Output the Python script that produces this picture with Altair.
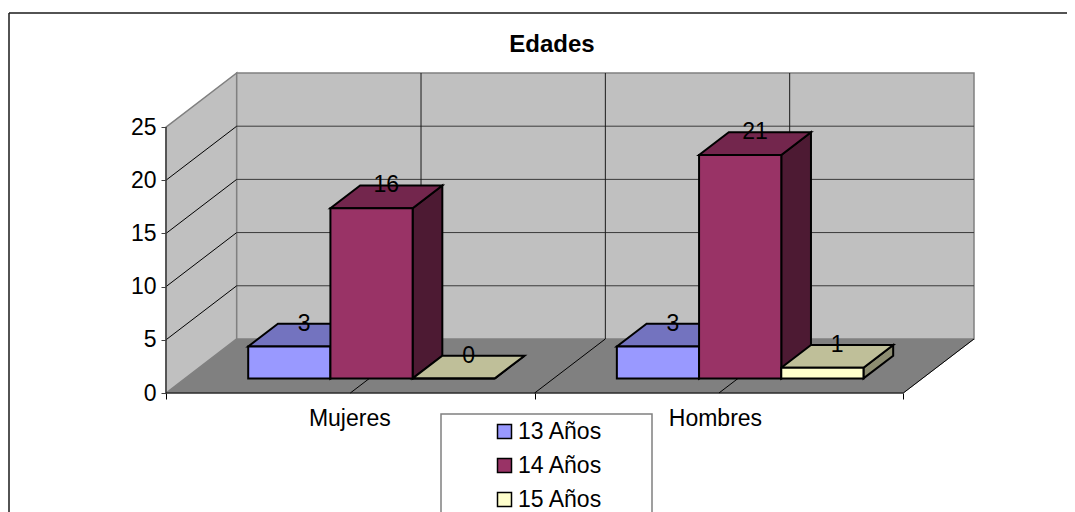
import altair as alt

# ---- chart values ----
categories = ["Mujeres", "Hombres"]
series = ["13 Años", "14 Años", "15 Años"]
values_13 = [3, 3]
values_14 = [16, 21]
values_15 = [0, 1]
y_ticks = [0, 5, 10, 15, 20, 25]

# ---- styles ----
front_colors = ["#9999FF", "#993366", "#FFFFCC"]
top_colors = ["#7373BF", "#73264D", "#BFBF99"]
side_colors = ["#4D4D80", "#4D1A33", "#8C8C70"]
FONT = "Liberation Sans"
FS = 23

# ---- oblique projection parameters (category units / value units) ----
DX = 0.1918      # full depth, in category units
DY = 5.08        # full depth, in value units
D0 = 0.27        # depth fraction in front of the bars
DB = 0.42        # depth fraction taken by a bar
GAP = 0.223
BW = 0.223
YMAX = 25 + DY
XMAX = 2 + DX

fronts, sides, tops, labels = [], [], [], []
for s, (name, vals) in enumerate(zip(series, [values_13, values_14, values_15])):
    for c, v in enumerate(vals):
        bid = f"{c}-{s}"
        xl = c + GAP + s * BW
        xr = xl + BW
        y0 = D0 * DY
        y1 = v + y0
        bx = DB * DX
        by = DB * DY
        fronts.append(dict(x=xl, x2=xr, y=y0, y2=y1, serie=name))
        sides.append(dict(x=xr, y=y0, y2=y1, fill=side_colors[s], id=bid))
        sides.append(dict(x=xr + bx, y=y0 + by, y2=y1 + by, fill=side_colors[s], id=bid))
        tops.append(dict(y=y1, x=xl, x2=xr, fill=top_colors[s], id=bid))
        tops.append(dict(y=y1 + by, x=xl + bx, x2=xr + bx, fill=top_colors[s], id=bid))
        labels.append(dict(x=(xl + xr) / 2 + bx / 2, y=y1 + by, t=str(v)))

x_axis = alt.Axis(
    values=[0, 0.5, 1, 1.5, 2],
    labelExpr=f"datum.value == 0.5 ? '{categories[0]}' : datum.value == 1.5 ? '{categories[1]}' : ''",
    labelFont=FONT, labelFontSize=FS, labelColor="#000000", labelPadding=8,
    labelOverlap=False, labelBound=False, labelFlush=False,
    labelOffset={"condition": {"test": "datum.value == 1.5", "value": -4}, "value": -1},
    tickColor="#000000", tickSize=6,
    tickOpacity={"condition": {"test": "datum.value % 1 == 0", "value": 1}, "value": 0},
    domain=False, grid=False, zindex=1,
)
y_axis = alt.Axis(
    values=y_ticks, format="d", labelFont=FONT, labelFontSize=FS, labelColor="#000000",
    labelPadding=5, labelOverlap=False, labelBound=False, labelFlush=False,
    tickColor="#404040", tickSize=5, domain=False, grid=False, zindex=1,
)

xs = alt.Scale(domain=[0, XMAX], range=[0, 808], nice=False, zero=False)
ys = alt.Scale(domain=[0, YMAX], range=[320, 0], nice=False, zero=False)
X = alt.X("x:Q", scale=xs, title=None, axis=x_axis)
Y = alt.Y("y:Q", scale=ys, title=None, axis=y_axis)
X2 = alt.X2("x2:Q")
Y2 = alt.Y2("y2:Q")

df = lambda rows: alt.Data(values=rows)
one = df([{"a": 0}])

# walls and floor
floor = alt.Chart(df([dict(y=0, x=0, x2=2), dict(y=DY, x=DX, x2=XMAX)])).mark_area(
    orient="horizontal", fill="#808080", stroke="#808080", strokeWidth=1
).encode(y=Y, x=X, x2=X2)

left_wall = alt.Chart(df([dict(x=0, y=0, y2=25), dict(x=DX, y=DY, y2=YMAX)])).mark_area(
    fill="#C0C0C0", stroke="#808080", strokeWidth=1.5
).encode(x=X, y=Y, y2=Y2)

back_wall = alt.Chart(df([dict(x=DX, x2=XMAX, y=DY, y2=YMAX)])).mark_rect(
    fill="#C0C0C0", stroke="#808080", strokeWidth=1.5
).encode(x=X, x2=X2, y=Y, y2=Y2)

# gridlines
side_grid = []
for v in y_ticks[1:-1]:
    side_grid += [dict(x=0, y=v, id=v), dict(x=DX, y=v + DY, id=v)]
side_lines = alt.Chart(df(side_grid)).mark_line(color="#000000", strokeWidth=1).encode(
    x=X, y=Y, detail="id:N"
)
back_h = alt.Chart(df([dict(x=DX, x2=XMAX, y=v + DY) for v in y_ticks[1:-1]])).mark_rule(
    color="#3a3a3a", strokeWidth=1
).encode(x=X, x2=X2, y=Y)
back_v = alt.Chart(df([dict(x=k / 2 + DX, y=DY, y2=YMAX) for k in (1, 2, 3)])).mark_rule(
    color="#1a1a1a", strokeWidth=1
).encode(x=X, y=Y, y2=Y2)
floor_grid = []
for k in (1, 2, 3, 4):
    floor_grid += [dict(x=k / 2, y=0, id=k), dict(x=k / 2 + DX, y=DY, id=k)]
floor_lines = alt.Chart(df(floor_grid)).mark_line(color="#000000", strokeWidth=1).encode(
    x=X, y=Y, detail="id:N"
)
front_axis = alt.Chart(df([dict(x=0, y=0, y2=25)])).mark_rule(color="#404040", strokeWidth=1.5).encode(
    x=X, y=Y, y2=Y2
)
floor_front = alt.Chart(df([dict(x=0, x2=2, y=0)])).mark_rule(color="#000000", strokeWidth=1.2).encode(
    x=X, x2=X2, y=Y
)

# bars
top_faces = alt.Chart(df(tops)).mark_area(orient="horizontal", stroke="#000000", strokeWidth=2).encode(
    y=Y, x=X, x2=X2,
    fill=alt.Fill("fill:N", scale=None), detail="id:N"
)
side_faces = alt.Chart(df(sides)).mark_area(stroke="#000000", strokeWidth=2).encode(
    x=X, y=Y, y2=Y2,
    fill=alt.Fill("fill:N", scale=None), detail="id:N"
)

# legend box + bars' front faces (which carry the legend)
legend_box = alt.Chart(one).mark_rect(fill="#FFFFFF", stroke="#808080", strokeWidth=1.5).encode(
    x=alt.value(275), x2=alt.value(486), y=alt.value(341), y2=alt.value(600)
)
front_faces = alt.Chart(df(fronts)).mark_rect(stroke="#000000", strokeWidth=2).encode(
    x=X, x2=X2, y=Y, y2=Y2,
    fill=alt.Fill("serie:N", scale=alt.Scale(domain=series, range=front_colors),
                  legend=alt.Legend(
                      title=None, orient="none", legendX=327, legendY=347, zindex=2,
                      symbolType="square", symbolSize=196, symbolStrokeColor="#000000",
                      symbolStrokeWidth=1.5, labelFont=FONT, labelFontSize=FS,
                      labelColor="#000000", rowPadding=10, labelOffset=2, padding=0))
)
value_labels = alt.Chart(df(labels)).mark_text(
    font=FONT, fontSize=FS, color="#000000", baseline="middle", align="center"
).encode(x=X, y=Y, text="t:N")

# outer frame (right and bottom edges lie outside the picture)
frame_t = alt.Chart(one).mark_rule(color="#1a1a1a", strokeWidth=1.5).encode(
    x=alt.value(-157), x2=alt.value(920), y=alt.value(-60))
frame_l = alt.Chart(one).mark_rule(color="#1a1a1a", strokeWidth=1.5).encode(
    x=alt.value(-157), y=alt.value(-60), y2=alt.value(500))

chart = alt.layer(
    frame_t, frame_l, floor, left_wall, back_wall, side_lines, back_h, back_v, floor_lines,
    front_axis, floor_front, side_faces, top_faces, legend_box, front_faces, value_labels,
).properties(
    width=808, height=320,
    padding={"left": 158, "top": 65, "right": 93, "bottom": 119},
    autosize=alt.AutoSizeParams(type="none"),
    title=alt.TitleParams("Edades", font=FONT, fontSize=24, fontWeight="bold", color="#000000",
                          anchor="middle", dx=-18, offset=-45),
).configure_view(stroke=None)

chart.save("out.html", embed_options={"renderer": "svg", "actions": False})
